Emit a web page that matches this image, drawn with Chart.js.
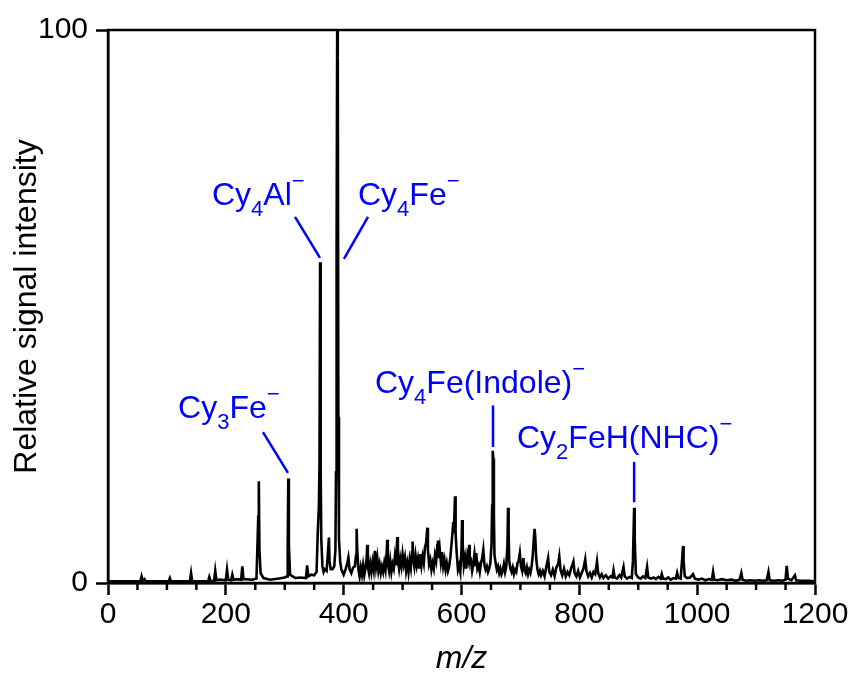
<!DOCTYPE html>
<html>
<head>
<meta charset="utf-8">
<script src="https://cdn.jsdelivr.net/npm/chart.js@4.4.1/dist/chart.umd.min.js"></script>
<style>
  body { margin: 0; background: #fff; }
  canvas { display: block; }
</style>
</head>
<body>
<canvas id="ms" width="853" height="678"></canvas>
<script>
'use strict';

// m/z 2 - 340, mostly flat with a few small peaks
const lowMz = [2, 40, 55, 57, 59, 62, 64, 80, 103, 105, 107,
  125, 139, 141, 143, 160, 170, 172, 174, 180, 182,
  184, 190, 200, 202, 204, 209, 211, 213, 220, 226,
  228, 230, 245, 252, 254, 255, 256, 257, 259, 261,
  264, 275, 290, 300, 304, 305, 306, 307, 309, 312,
  318, 326, 336, 338, 340];
const lowInt = [0.3, 0.3, 0.3, 1.2, 0.4, 0.7, 0.3, 0.3, 0.3, 0.9, 0.3,
  0.3, 0.3, 1.8, 0.3, 0.3, 0.3, 1.1, 0.4, 0.3, 2.2,
  0.5, 0.6, 0.5, 2.4, 0.6, 0.5, 1.5, 0.6, 0.7, 0.6,
  3.0, 0.7, 0.6, 0.8, 8, 12, 18.4, 6, 1.8, 1.4,
  0.9, 0.6, 0.8, 1.0, 1.2, 6, 18.9, 7, 1.5, 1.3,
  0.9, 1.0, 0.9, 3.2, 1.2];

// Cy4Al- / Cy4Fe- region
const mainMz = [345, 350, 354, 356, 358, 359, 360, 361, 362, 364,
  366, 368, 371, 373, 375, 376, 378, 381, 384, 386,
  387, 388, 389, 390, 391, 392, 394, 396, 400, 403,
  406, 408, 410, 413, 416, 419, 421, 422, 423];
const mainInt = [1.5, 1.4, 2.0, 9, 14, 22, 58, 20, 8, 3,
  2, 2.5, 2.2, 5, 8.2, 4, 2.5, 2.5, 3, 6,
  20, 60, 100, 95, 30, 8, 4, 2.5, 1.5, 2.4,
  3.5, 4.6, 2.5, 1.8, 2.8, 3.0, 5, 9.8, 6];

// dense band, m/z 425 - 733
const bandMz = [425, 427, 429, 431, 433, 435, 437, 439, 440, 441,
  443, 445, 447, 449, 451, 453, 455, 457, 459, 461,
  463, 465, 467, 469, 471, 473, 474, 475, 477, 479,
  481, 483, 485, 487, 489, 491, 492, 494, 496, 498,
  500, 502, 504, 506, 508, 510, 512, 514, 516, 517,
  518, 520, 522, 524, 526, 528, 530, 532, 534, 536,
  538, 540, 542, 543, 545, 547, 549, 551, 553, 555,
  557, 559, 560, 561, 563, 565, 567, 569, 571, 573,
  575, 577, 579, 581, 583, 585, 586, 587, 589, 590,
  592, 594, 596, 598, 600, 601, 602, 604, 606, 608,
  610, 612, 613, 614, 616, 618, 620, 622, 624, 625,
  627, 629, 631, 633, 635, 637, 639, 641, 643, 645,
  647, 649, 651, 652, 653, 654, 655, 656, 658, 660,
  662, 664, 666, 668, 670, 672, 674, 676, 678, 679,
  680, 681, 683, 685, 687, 689, 691, 693, 695, 697,
  699, 701, 703, 705, 707, 709, 711, 713, 715, 717,
  719, 721, 723, 724, 725, 727, 729, 731, 733];
const bandInt = [2.5, 1.2, 2.8, 1.5, 3.2, 1.4, 2.6, 4.5, 6.9, 3.0,
  1.8, 3.5, 2.0, 3.8, 2.4, 5.8, 3.0, 4.6, 2.2, 3.4,
  1.8, 3.0, 2.0, 3.6, 2.4, 5.5, 7.8, 3.5, 2.2, 4.0,
  2.0, 3.4, 2.6, 4.8, 3.2, 8.3, 4.2, 2.6, 4.4, 3.0,
  5.2, 3.4, 4.6, 2.2, 3.6, 2.0, 4.2, 2.8, 5.6, 7.5,
  4.5, 3.0, 5.0, 3.2, 4.4, 2.6, 5.2, 3.2, 4.8, 3.6,
  6.5, 7.2, 10.0, 6.0, 3.4, 4.2, 2.4, 3.6, 2.6, 5.0,
  4.0, 6.8, 7.7, 4.5, 6.2, 3.8, 5.6, 3.0, 4.2, 2.4,
  3.6, 2.2, 3.0, 4.6, 7.0, 9.5, 11.0, 9.0, 15.7, 9.0,
  5.2, 2.4, 3.2, 2.0, 6.0, 11.4, 7.0, 3.2, 4.6, 2.6,
  5.0, 4.0, 6.9, 3.6, 4.0, 2.2, 3.4, 5.2, 3.0, 5.4,
  2.6, 3.2, 2.0, 3.6, 4.4, 6.0, 3.2, 2.4, 3.0, 2.0,
  2.6, 3.6, 7.0, 14.0, 23.9, 22.5, 12.0, 5.0, 3.6, 2.4,
  3.0, 1.8, 2.6, 1.6, 2.2, 3.4, 2.0, 3.0, 7.0, 13.6,
  9.0, 4.0, 2.6, 2.0, 2.8, 1.6, 2.4, 2.0, 3.6, 4.0,
  5.4, 3.0, 2.2, 4.5, 2.4, 1.8, 2.8, 1.6, 2.4, 1.8,
  3.0, 5.0, 8.4, 9.8, 8.6, 4.2, 2.4, 1.6, 2.2];

// m/z 735 - 1200
const highMz = [735, 738, 741, 744, 747, 749, 752, 755, 758, 761,
  764, 766, 768, 771, 774, 777, 780, 783, 786, 790,
  792, 795, 798, 801, 804, 807, 810, 812, 815, 818,
  821, 824, 827, 830, 832, 835, 838, 841, 845, 849,
  853, 856, 858, 860, 864, 868, 871, 875, 877, 881,
  885, 889, 891, 893, 894, 896, 900, 904, 908, 912,
  915, 917, 922, 926, 930, 934, 938, 940, 942, 947,
  951, 955, 960, 964, 966, 968, 972, 975, 976, 977,
  979, 983, 988, 993, 996, 1002, 1008, 1014, 1020, 1025,
  1027, 1029, 1035, 1042, 1050, 1058, 1066, 1072, 1075, 1077,
  1083, 1090, 1098, 1105, 1112, 1118, 1121, 1123, 1130, 1138,
  1145, 1150, 1152, 1154, 1160, 1166, 1168, 1175, 1182, 1190,
  1198];
const highInt = [1.4, 2.2, 1.2, 3.0, 4.5, 2.0, 1.4, 2.4, 1.2, 2.8,
  3.4, 4.8, 2.4, 1.4, 2.6, 1.2, 2.0, 1.4, 2.6, 3.9,
  1.8, 1.2, 2.2, 1.0, 1.8, 2.6, 4.3, 2.2, 1.2, 1.8,
  1.0, 2.0, 1.6, 3.9, 1.8, 1.0, 1.6, 0.9, 1.4, 0.8,
  1.2, 1.0, 2.3, 1.0, 0.8, 1.4, 1.0, 2.9, 1.2, 0.8,
  1.1, 0.9, 4.0, 13.6, 8.0, 1.6, 1.0, 0.8, 1.2, 0.9,
  2.9, 1.0, 0.8, 1.0, 0.7, 1.1, 0.8, 1.6, 0.8, 0.7,
  1.0, 0.6, 0.9, 0.8, 1.8, 0.9, 0.8, 5.0, 6.7, 4.0,
  1.2, 0.9, 1.0, 1.6, 0.8, 0.6, 0.8, 0.5, 0.7, 0.6,
  2.0, 0.6, 0.5, 0.7, 0.5, 0.6, 0.4, 0.6, 1.8, 0.6,
  0.4, 0.5, 0.4, 0.5, 0.4, 0.5, 2.0, 0.5, 0.4, 0.5,
  0.4, 0.6, 3.1, 0.8, 0.5, 1.4, 0.5, 0.4, 0.4, 0.4,
  0.3];

const xTicks = [0, 200, 400, 600, 800, 1000, 1200];
const yTicks = [0, 100];

// peak labels: text parts, text left/baseline and leader line in data units
const labels = [
  { parts: [['Cy'], ['3', 'sub'], ['Fe'], ['\u2212', 'sup']], x: 119, y: 29.8, line: [263, 27.3, 305.5, 19.9] },
  { parts: [['Cy'], ['4', 'sub'], ['Al'], ['\u2212', 'sup']], x: 176.5, y: 68.4, line: [317.4, 66.2, 359.8, 58.8] },
  { parts: [['Cy'], ['4', 'sub'], ['Fe'], ['\u2212', 'sup']], x: 424.3, y: 68.4, line: [441.3, 66.2, 400.5, 58.6] },
  { parts: [['Cy'], ['4', 'sub'], ['Fe(Indole)'], ['\u2212', 'sup']], x: 453.2, y: 34.4, line: [653.5, 32.1, 653.5, 24.6] },
  { parts: [['Cy'], ['2', 'sub'], ['FeH(NHC)'], ['\u2212', 'sup']], x: 694.2, y: 24.4, line: [893, 21.9, 893, 14.6] }
];

const allMz = lowMz.concat(mainMz, bandMz, highMz);
const allInt = lowInt.concat(mainInt, bandInt, highInt);
const points = allMz.map((m, i) => ({ x: m, y: allInt[i] }));

const FONT = 'Liberation Sans, Arial, sans-serif';

const decorPlugin = {
  id: 'decor',
  afterDatasetsDraw(chart) {
    const ctx = chart.ctx;
    const xs = chart.scales.x;
    const ys = chart.scales.y;
    const area = chart.chartArea;
    ctx.save();

    // minor ticks every 50
    ctx.strokeStyle = '#000';
    ctx.lineWidth = 2.5;
    for (let v = 50; v < 1200; v += 50) {
      if (v % 200 === 0) continue;
      const px = xs.getPixelForValue(v);
      ctx.beginPath();
      ctx.moveTo(px, area.bottom);
      ctx.lineTo(px, area.bottom + 7);
      ctx.stroke();
    }

    // frame
    ctx.strokeRect(area.left, area.top, area.right - area.left, area.bottom - area.top);

    // labels
    ctx.fillStyle = '#0000ff';
    ctx.strokeStyle = '#0000ff';
    ctx.textBaseline = 'alphabetic';
    ctx.textAlign = 'left';
    labels.forEach(lb => {
      let px = xs.getPixelForValue(lb.x);
      const py = ys.getPixelForValue(lb.y);
      lb.parts.forEach(p => {
        const kind = p[1];
        let size = 32, dy = 0;
        if (kind === 'sub') { size = 22; dy = 11; }
        if (kind === 'sup') { size = 22; dy = -17; }
        ctx.font = size + 'px ' + FONT;
        ctx.fillText(p[0], px, py + dy);
        px += ctx.measureText(p[0]).width;
      });
      ctx.lineWidth = 2.5;
      ctx.beginPath();
      ctx.moveTo(xs.getPixelForValue(lb.line[0]), ys.getPixelForValue(lb.line[1]));
      ctx.lineTo(xs.getPixelForValue(lb.line[2]), ys.getPixelForValue(lb.line[3]));
      ctx.stroke();
    });
    ctx.restore();
  }
};

new Chart(document.getElementById('ms'), {
  type: 'line',
  data: {
    datasets: [{
      data: points,
      borderColor: '#000',
      borderWidth: 2.6,
      pointRadius: 0,
      tension: 0,
      fill: false
    }]
  },
  options: {
    responsive: false,
    animation: false,
    layout: { padding: { top: 30, right: 38, left: 0, bottom: 0 } },
    plugins: { legend: { display: false }, tooltip: { enabled: false } },
    scales: {
      x: {
        type: 'linear',
        min: 0,
        max: 1200,
        afterFit(scale) { scale.height = 95; },
        afterBuildTicks(scale) { scale.ticks = xTicks.map(v => ({ value: v })); },
        grid: { drawOnChartArea: false, tickLength: 12, tickWidth: 2.5, tickColor: '#000' },
        border: { color: '#000', width: 2.5 },
        ticks: { color: '#000', font: { family: FONT, size: 30 }, padding: 2, maxRotation: 0, callback: v => String(v) },
        title: { display: true, text: 'm/z', color: '#000', font: { family: FONT, size: 32, style: 'italic' }, padding: { top: 0, bottom: 0 } }
      },
      y: {
        min: 0,
        max: 100,
        afterFit(scale) { scale.width = 108; },
        afterBuildTicks(scale) { scale.ticks = yTicks.map(v => ({ value: v })); },
        grid: { drawOnChartArea: false, tickLength: 12, tickWidth: 2.5, tickColor: '#000' },
        border: { color: '#000', width: 2.5 },
        ticks: { color: '#000', font: { family: FONT, size: 30 }, padding: 8, callback: v => String(v) },
        title: { display: true, text: 'Relative signal intensity', color: '#000', font: { family: FONT, size: 32 }, padding: { top: 8, bottom: 0 } }
      }
    }
  },
  plugins: [decorPlugin]
});
</script>
</body>
</html>
